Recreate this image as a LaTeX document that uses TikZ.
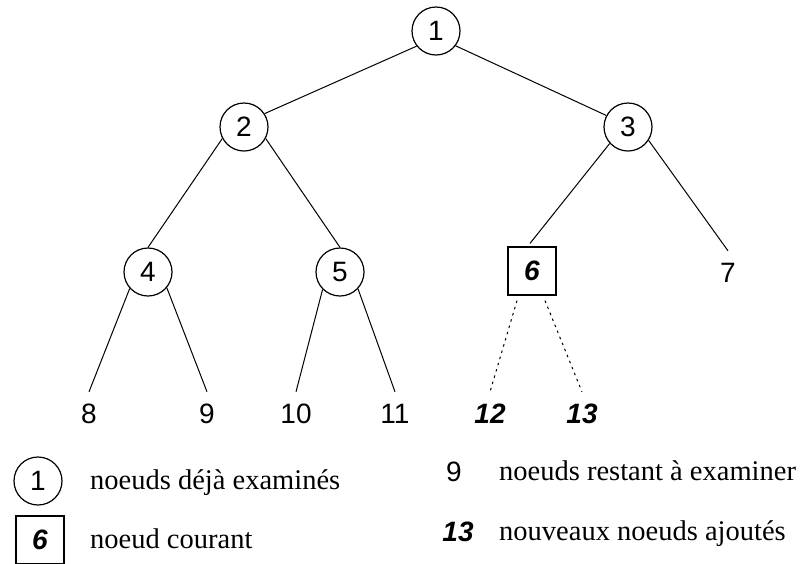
\documentclass[tikz,border=0pt]{standalone}
\usepackage{fontspec}
\setmainfont{Liberation Serif}
\newfontfamily\numfont{Liberation Sans}
\begin{document}
\begin{tikzpicture}[x=1pt,y=-1pt,
  numtxt/.style={font=\numfont\fontsize{28}{28}\selectfont},
  newtxt/.style={font=\numfont\bfseries\itshape\fontsize{28}{28}\selectfont},
  examined/.style={circle, draw, line width=1.2pt, minimum size=48pt, inner sep=0pt, numtxt},
  current/.style={rectangle, draw, line width=1.2pt, minimum size=48pt, inner sep=0pt, newtxt},
  leaf/.style={minimum height=44pt, inner sep=0pt, numtxt},
  newleaf/.style={minimum height=44pt, inner sep=0pt, newtxt},
  edge/.style={line width=1pt},
  newedge/.style={line width=1pt, dash pattern=on 2.5pt off 4pt},
  legtxt/.style={anchor=base west, inner sep=0pt, font=\fontsize{28.5}{30}\selectfont}]
\useasboundingbox[fill=white] (0,0) rectangle (800,563);
% tree
\node[examined] (n1) at (436,31) {1};
\node[examined] (n2) at (244,127) {2};
\node[examined] (n3) at (628,127) {3};
\node[examined] (n4) at (148,272) {4};
\node[examined] (n5) at (340,272) {5};
\node[current] (n6) at (532,271) {6};
\node[leaf] (n7) at (728,273) {7};
\node[leaf] (n8) at (89,414) {8};
\node[leaf] (n9) at (207,414) {9};
\node[leaf] (n10) at (296,414) {10};
\node[leaf] (n11) at (395,414) {11};
\node[newleaf] (n12) at (490,414) {12};
\node[newleaf] (n13) at (582,414) {13};
\draw[edge] (n1.218) -- (n2.33);
\draw[edge] (n1.-37) -- (n3.152);
\draw[edge] (n2.208) -- (n4.north);
\draw[edge] (n2.-28) -- (n5.north);
\draw[edge] (n3.222) -- ([xshift=-2pt,yshift=3pt]n6.north);
\draw[edge] (n3.-33) -- (n7.north);
\draw[edge] (n4.222) -- (n8.north);
\draw[edge] (n4.-40) -- (n9.north);
\draw[edge] (n5.225) -- (n10.north);
\draw[edge] (n5.-43) -- (n11.north);
\draw[newedge] ([xshift=-15pt,yshift=-5pt]n6.south) -- (n12.north);
\draw[newedge] ([xshift=13pt,yshift=-5pt]n6.south) -- (n13.north);
% legend
\node[examined] (l1) at (38,481) {1};
\node[legtxt] (t1) at (90,489) {noeuds déjà examinés};
\node[current] (l2) at (40,540) {6};
\node[legtxt] (t2) at (90,548) {noeud courant};
\node[numtxt, inner sep=0pt] (l3) at (454,472) {9};
\node[legtxt] (t3) at (499,480) {noeuds restant à examiner};
\node[newtxt, inner sep=0pt] (l4) at (458,532) {13};
\node[legtxt] (t4) at (499,540) {nouveaux noeuds ajoutés};
\end{tikzpicture}
\end{document}
